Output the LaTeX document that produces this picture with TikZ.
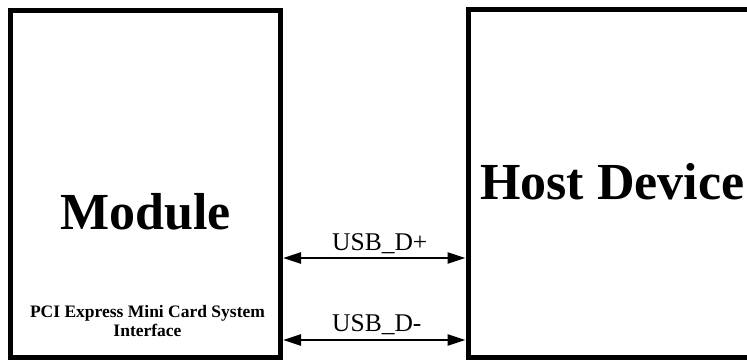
\documentclass[tikz,border=0pt]{standalone}
\usepackage{fontspec}
\setmainfont{Liberation Serif}
\usetikzlibrary{arrows.meta}
\begin{document}
\begin{tikzpicture}[x=1pt,y=1pt,
  block/.style={draw=black,line width=5pt,inner sep=0pt,fill=white},
  bigtext/.style={font=\fontsize{52}{60}\selectfont\bfseries,inner sep=0pt},
  smalltext/.style={font=\fontsize{17.5}{19.5}\selectfont\bfseries,inner sep=0pt,align=center},
  siglabel/.style={font=\fontsize{25.5}{28}\selectfont,inner sep=0pt,anchor=base west},
  sigarrow/.style={line width=2.5pt,{Triangle[length=18pt,width=11pt]}-{Triangle[length=18pt,width=11pt]}}]
\useasboundingbox (0,0) rectangle (747,361);
\clip (0,0) rectangle (747,361);
\node[block,minimum width=270pt,minimum height=347pt] (module) at (145.5,176.5) {};
\node[block,minimum width=332pt,minimum height=348.5pt] (host) at (634,177.25) {};
\node[bigtext,anchor=base] (mtext) at (145.5,131) {Module};
\node[bigtext,anchor=base west] (htext) at (480,161) {Host Device};
\node[smalltext,anchor=base] (pci) at (147.5,24) {PCI Express Mini Card System\\Interface};
\coordinate (p1) at (module.east |- 0,103);
\coordinate (q1) at (host.west |- 0,103);
\coordinate (p2) at (module.east |- 0,21);
\coordinate (q2) at (host.west |- 0,21);
\draw[sigarrow] (p1) -- (q1);
\draw[sigarrow] (p2) -- (q2);
\node[siglabel] (l1) at (332,110) {USB\_D+};
\node[siglabel] (l2) at (332,29) {USB\_D-};
\end{tikzpicture}
\end{document}
